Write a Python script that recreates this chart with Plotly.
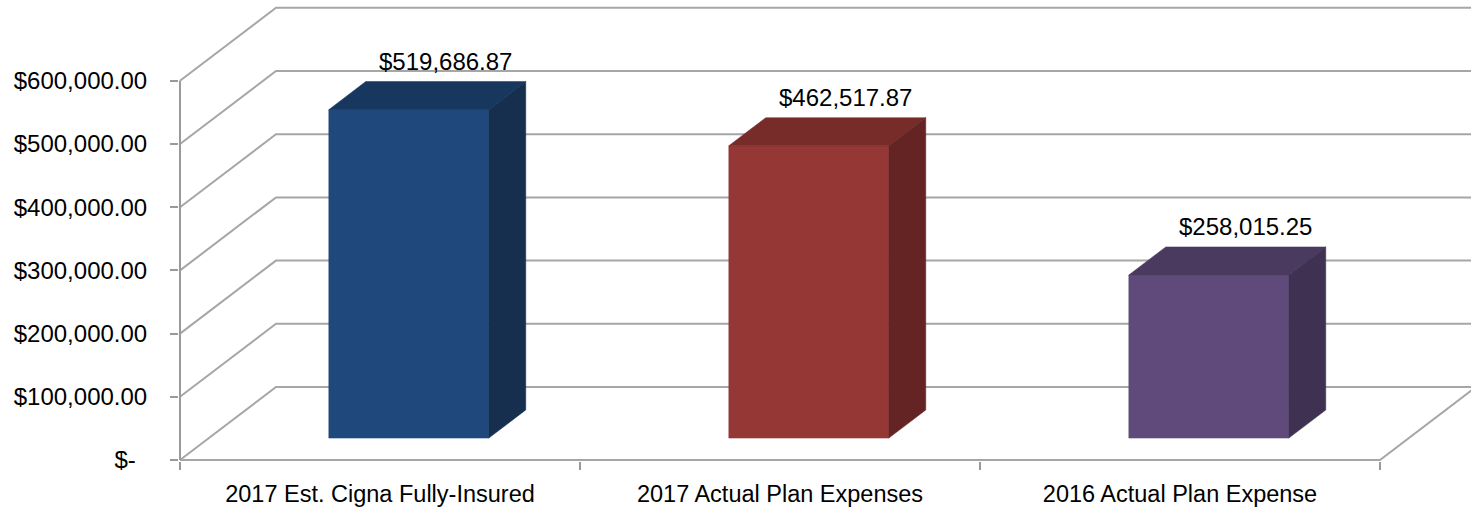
import plotly.graph_objects as go

# --- chart data -------------------------------------------------------------
categories = [
    "2017 Est. Cigna Fully-Insured",
    "2017 Actual Plan Expenses",
    "2016 Actual Plan Expense",
]
values = [519686.87, 462517.87, 258015.25]
y_ticks = [0, 100000, 200000, 300000, 400000, 500000, 600000]
y_tick_text = ["$-\u00a0\u2009"] + [f"${v:,.2f}" for v in y_ticks[1:]]

# face colours per bar: front, top, side
front_colors = ["#1F497D", "#953735", "#604A7B"]
top_colors = ["#17375E", "#772C2A", "#4B3A5F"]
side_colors = ["#162F4F", "#632423", "#3F3151"]

# --- 3-D look: oblique depth offset expressed in axis units -----------------
PX_PER_CAT = 400.0          # horizontal pixels per category
PX_PER_VAL = 63.2 / 100000  # vertical pixels per dollar
DX = 96 / PX_PER_CAT        # depth shift along x (category units)
DY = 73 / PX_PER_VAL        # depth shift along y (dollar units)
HALF_W = 0.2                # half bar width (category units)
Z_FRONT, Z_BACK = 0.30, 0.685
X_MIN, X_MAX = -0.5, len(categories) - 0.5

GRID = "#A6A6A6"
AXIS = "#9A9A9A"
FONT = "Liberation Sans"


def proj(x, v, z):
    return x + DX * z, v + DY * z


fig = go.Figure()

# walls and floor: side-wall diagonals, back-wall gridlines
gx, gy = [], []
for v in y_ticks:
    for p in (proj(X_MIN, v, 0), proj(X_MIN, v, 1), proj(X_MAX + 1, v, 1)):
        gx.append(p[0])
        gy.append(p[1])
    gx.append(None)
    gy.append(None)
# floor front edge and right edge
for p in (proj(X_MIN, 0, 0), proj(X_MAX, 0, 0), proj(X_MAX, 0, 1)):
    gx.append(p[0])
    gy.append(p[1])
fig.add_trace(go.Scatter(x=gx, y=gy, mode="lines",
                         line=dict(color=GRID, width=2),
                         hoverinfo="skip", showlegend=False))

# front vertical value axis
fig.add_trace(go.Scatter(x=[X_MIN, X_MIN], y=[0, y_ticks[-1]], mode="lines",
                         line=dict(color=AXIS, width=2),
                         hoverinfo="skip", showlegend=False))


def face(points, color):
    xs = [p[0] for p in points] + [points[0][0]]
    ys = [p[1] for p in points] + [points[0][1]]
    fig.add_trace(go.Scatter(x=xs, y=ys, mode="lines", fill="toself",
                             fillcolor=color, line=dict(color=color, width=0.5),
                             hoverinfo="skip", showlegend=False))


for i, v in enumerate(values):
    l, r = i - HALF_W, i + HALF_W
    face([proj(l, 0, Z_FRONT), proj(r, 0, Z_FRONT),
          proj(r, v, Z_FRONT), proj(l, v, Z_FRONT)], front_colors[i])
    face([proj(l, v, Z_FRONT), proj(r, v, Z_FRONT),
          proj(r, v, Z_BACK), proj(l, v, Z_BACK)], top_colors[i])
    face([proj(r, 0, Z_FRONT), proj(r, 0, Z_BACK),
          proj(r, v, Z_BACK), proj(r, v, Z_FRONT)], side_colors[i])
    lx, ly = proj(i, v, Z_BACK)
    fig.add_annotation(x=lx, y=ly, text=f"${v:,.2f}", showarrow=False,
                       yanchor="middle", yshift=20,
                       font=dict(family=FONT, size=24, color="#000000"))

W, H = 1471, 510
ML, MR, MT, MB = 179, 0, 5, 49
x_lo = X_MIN - 1 / PX_PER_CAT
x_hi = x_lo + (W - ML - MR) / PX_PER_CAT
y_lo = -1 / PX_PER_VAL
y_hi = y_lo + (H - MT - MB) / PX_PER_VAL

fig.update_layout(
    width=W, height=H,
    margin=dict(l=ML, r=MR, t=MT, b=MB, pad=0),
    paper_bgcolor="white", plot_bgcolor="white",
    font=dict(family=FONT, size=24, color="#000000"),
    showlegend=False,
    xaxis=dict(range=[x_lo, x_hi], showgrid=False, zeroline=False,
               showline=False, tickmode="array",
               tickvals=list(range(len(categories))), ticktext=categories,
               tickfont=dict(size=23.5),
               ticks="", ticklabelstandoff=16,
               minor=dict(tickmode="array",
                          tickvals=[k - 0.5 for k in range(len(categories) + 1)],
                          ticks="outside", ticklen=8, tickwidth=2,
                          tickcolor=AXIS, showgrid=False)),
    yaxis=dict(range=[y_lo, y_hi], showgrid=False, zeroline=False,
               showline=False, tickmode="array", tickvals=y_ticks,
               ticktext=y_tick_text, ticks="outside", ticklen=8,
               tickwidth=2, tickcolor=AXIS, ticklabelstandoff=18),
)

fig.write_html("out.html")
